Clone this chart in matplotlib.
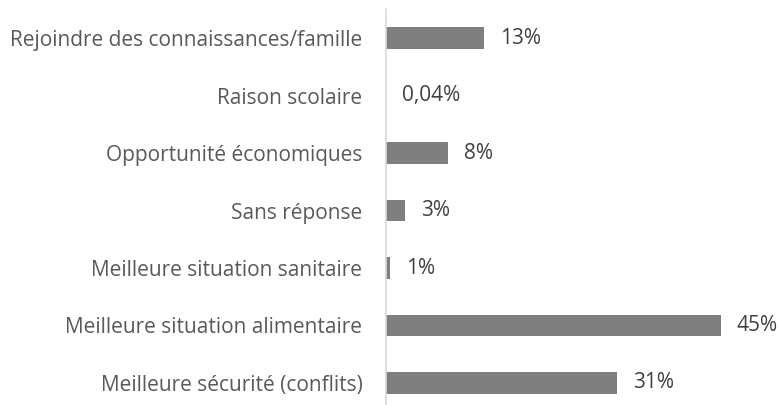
import matplotlib
matplotlib.use("Agg")
import matplotlib.pyplot as plt

# === DONNEES (de bas en haut) ===
categories = [
    "Meilleure sécurité (conflits)",
    "Meilleure situation alimentaire",
    "Meilleure situation sanitaire",
    "Sans réponse",
    "Opportunité économiques",
    "Raison scolaire",
    "Rejoindre des connaissances/famille",
]
valeurs = [31, 45, 0.6, 2.6, 8.4, 0.04, 13.2]
etiquettes = ["31%", "45%", "1%", "3%", "8%", "0,04%", "13%"]

plt.rcParams['font.family'] = ['Open Sans', 'DejaVu Sans']

fig = plt.figure(figsize=(7.8, 4.05), dpi=100)
ax = fig.add_axes([386 / 780, 0, 372 / 780, (405 - 9.3) / 405])

y = range(len(categories))
ax.barh(y, valeurs, height=0.38, color='#7f7f7f')
ax.set_xlim(0, 50)
ax.set_ylim(-0.383, 6.5)

ax.set_yticks(list(y))
ax.set_yticklabels(categories, fontsize=15, color='#595959')
ax.tick_params(axis='y', length=0, pad=17)
ax.set_xticks([])

for s in ['top', 'right', 'bottom']:
    ax.spines[s].set_visible(False)
ax.spines['left'].set_color('#d9d9d9')
ax.spines['left'].set_linewidth(1.2)

for yi, v, lab in zip(y, valeurs, etiquettes):
    ax.annotate(lab, (v, yi), xytext=(11.5, 0), textcoords='offset points',
                va='center', ha='left', fontsize=15, color='#404040')

fig.savefig('out.png', dpi=100)
